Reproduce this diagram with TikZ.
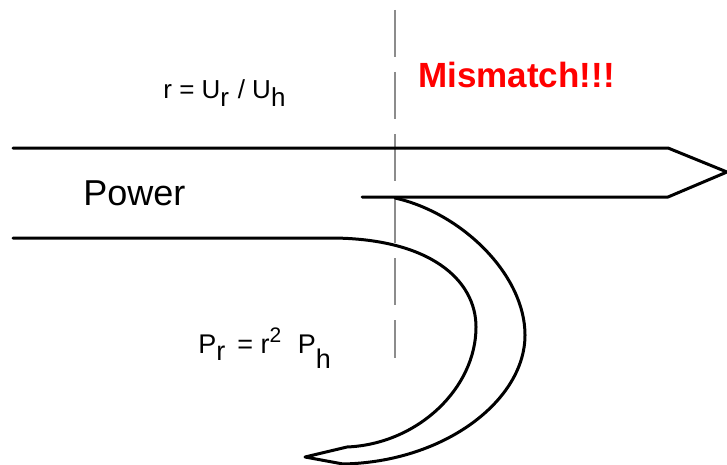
\documentclass[tikz,border=0pt]{standalone}
\usepackage{fontspec}
\setmainfont{Liberation Sans}
\usetikzlibrary{calc}

\begin{document}
\begin{tikzpicture}[
    x=0.5pt,y=-0.5pt,
    pipe/.style={draw=black,line width=1.5pt,line join=round,line cap=round},
    axis/.style={draw=black!45,line width=0.6pt,dash pattern=on 23.5pt off 7.5pt},
    lbl/.style={inner sep=0pt,anchor=base west},
    every node/.style={font=\fontsize{13}{14}\selectfont}]
  \useasboundingbox (0,0) rectangle (727,465);
  % ---- reference plane (dashed) ----
  \coordinate (ptop) at (395,10);
  \coordinate (pbot) at (395,358);
  \draw[axis] (ptop) -- (pbot);
  % ---- incoming power and transmitted arrow ----
  \coordinate (inA) at (13,148);
  \coordinate (inB) at (13,238);
  \coordinate (shA) at (668,148);
  \coordinate (tip) at (727,172);
  \coordinate (shB) at (668,197);
  \coordinate (trL) at (362,197);
  \draw[pipe] (inA) -- (shA) -- (tip) -- (shB) -- (trL);
  % ---- reflected part (crescent) ----
  \coordinate (outT) at (395,198);
  \coordinate (outR) at (525,335);
  \coordinate (outB) at (343,464);
  \coordinate (hook) at (305,457);
  \coordinate (innB) at (347,447);
  \coordinate (innR) at (476,327);
  \coordinate (innT) at (330,238);
  \draw[pipe] (outT) .. controls (462,213) and (525,275) .. (outR)
                     .. controls (525,400) and (445,462) .. (outB)
    -- (hook) -- (innB)
    .. controls (418,444) and (476,388) .. (innR)
    .. controls (476,280) and (430,238) .. (innT) -- (inB);
  % ---- labels ----
  \node[lbl] (ratio) at (163,98) {r = U\raisebox{-4pt}{r}\,\,/ U\raisebox{-4pt}{h}};
  \node[lbl,font=\fontsize{17.5}{20}\selectfont\bfseries,text=red] (miss) at (418,88) {Mismatch!!!};
  \node[lbl,font=\fontsize{18}{20}\selectfont] (pow) at (83,205) {Power};
  \node[lbl,font=\fontsize{13.5}{15}\selectfont] (prel) at (198,353)
    {P\raisebox{-3.5pt}{r}\, = r\raisebox{5.5pt}{\fontsize{10.5}{11}\selectfont 2}\,\, P\raisebox{-7.5pt}{h}};
\end{tikzpicture}
\end{document}
